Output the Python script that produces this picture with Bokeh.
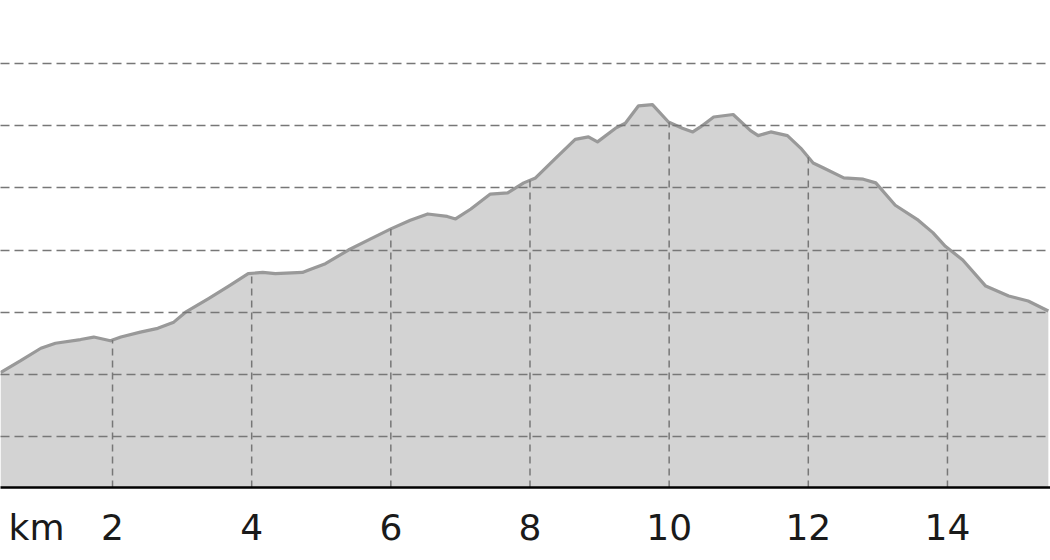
import numpy as np
from bokeh.plotting import figure
from bokeh.models import FixedTicker, Range1d
from bokeh.embed import file_html
from bokeh.resources import INLINE

# distance along the route (km) and elevation (m)
distance_km = [0.39, 0.68, 0.97, 1.18, 1.54, 1.73, 1.97, 2.12, 2.40, 2.65,
               2.88, 3.05, 3.38, 3.67, 3.95, 4.16, 4.34, 4.73, 4.82, 5.06,
               5.39, 5.71, 6.00, 6.28, 6.53, 6.81, 6.93, 7.15, 7.43, 7.68,
               7.91, 8.08, 8.37, 8.65, 8.84, 8.97, 9.23, 9.37, 9.56, 9.76,
               9.99, 10.19, 10.34, 10.45, 10.64, 10.92, 11.17, 11.28, 11.46, 11.70,
               11.89, 12.07, 12.22, 12.51, 12.79, 12.97, 13.25, 13.58, 13.79, 13.97,
               14.22, 14.55, 14.88, 15.16, 15.45]
elevation_m = [151.5, 161, 171, 175, 178, 180, 177, 180, 184, 187,
               192, 200, 211, 221, 231, 232, 231, 232, 234, 239,
               250, 259, 267, 274, 279, 277, 275, 283, 295, 296,
               304, 308, 324, 339, 341, 337, 348, 352, 366, 367,
               353, 348, 345, 349, 357, 359, 346, 342, 345, 342,
               332, 320, 316, 308, 307, 304, 286, 274, 264, 253,
               242, 221, 213, 209, 201]

x_ticks = [2, 4, 6, 8, 10, 12, 14]
unit_label = "km"
unit_label_pos = 0.908
y_grid = [100, 150, 200, 250, 300, 350, 400]
x_range = (0.390, 15.481)
y_range = (59.0, 450.7)

p = figure(frame_width=1050, frame_height=487, output_backend="svg",
           toolbar_location=None, y_axis_location=None,
           x_range=Range1d(*x_range), y_range=Range1d(*y_range),
           min_border=0, min_border_left=0, min_border_right=0,
           min_border_top=0, min_border_bottom=0)
p.outline_line_color = None
p.background_fill_color = "white"
p.border_fill_color = "white"

base = y_range[0]
p.varea(x=distance_km, y1=base, y2=elevation_m, fill_color="#d3d3d3")
p.line(distance_km, elevation_m, line_color="#999999", line_width=3.2,
       line_join="round")

# vertical drop lines at km ticks, up to the profile
drop_top = np.interp(x_ticks, distance_km, elevation_m)
p.segment(x0=x_ticks, y0=[base] * len(x_ticks), x1=x_ticks, y1=drop_top,
          line_color="#777777", line_width=1.5, line_dash="7 5")

p.xgrid.visible = False
p.ygrid.ticker = FixedTicker(ticks=y_grid)
p.ygrid.grid_line_color = "#777777"
p.ygrid.grid_line_width = 1.5
p.ygrid.grid_line_dash = "9 5"
p.ygrid.level = "overlay"

ax = p.xaxis[0]
ax.ticker = FixedTicker(ticks=[unit_label_pos] + x_ticks)
ax.major_label_overrides = {unit_label_pos: unit_label}
ax.axis_line_color = "black"
ax.axis_line_width = 2.5
ax.major_tick_line_color = None
ax.minor_tick_line_color = None
ax.major_tick_out = 0
ax.major_tick_in = 0
ax.major_label_standoff = 19
ax.major_label_text_font = "DejaVu Sans"
ax.major_label_text_font_size = "36px"
ax.major_label_text_color = "#1a1a1a"

open("out.html", "w").write(file_html(p, INLINE))
